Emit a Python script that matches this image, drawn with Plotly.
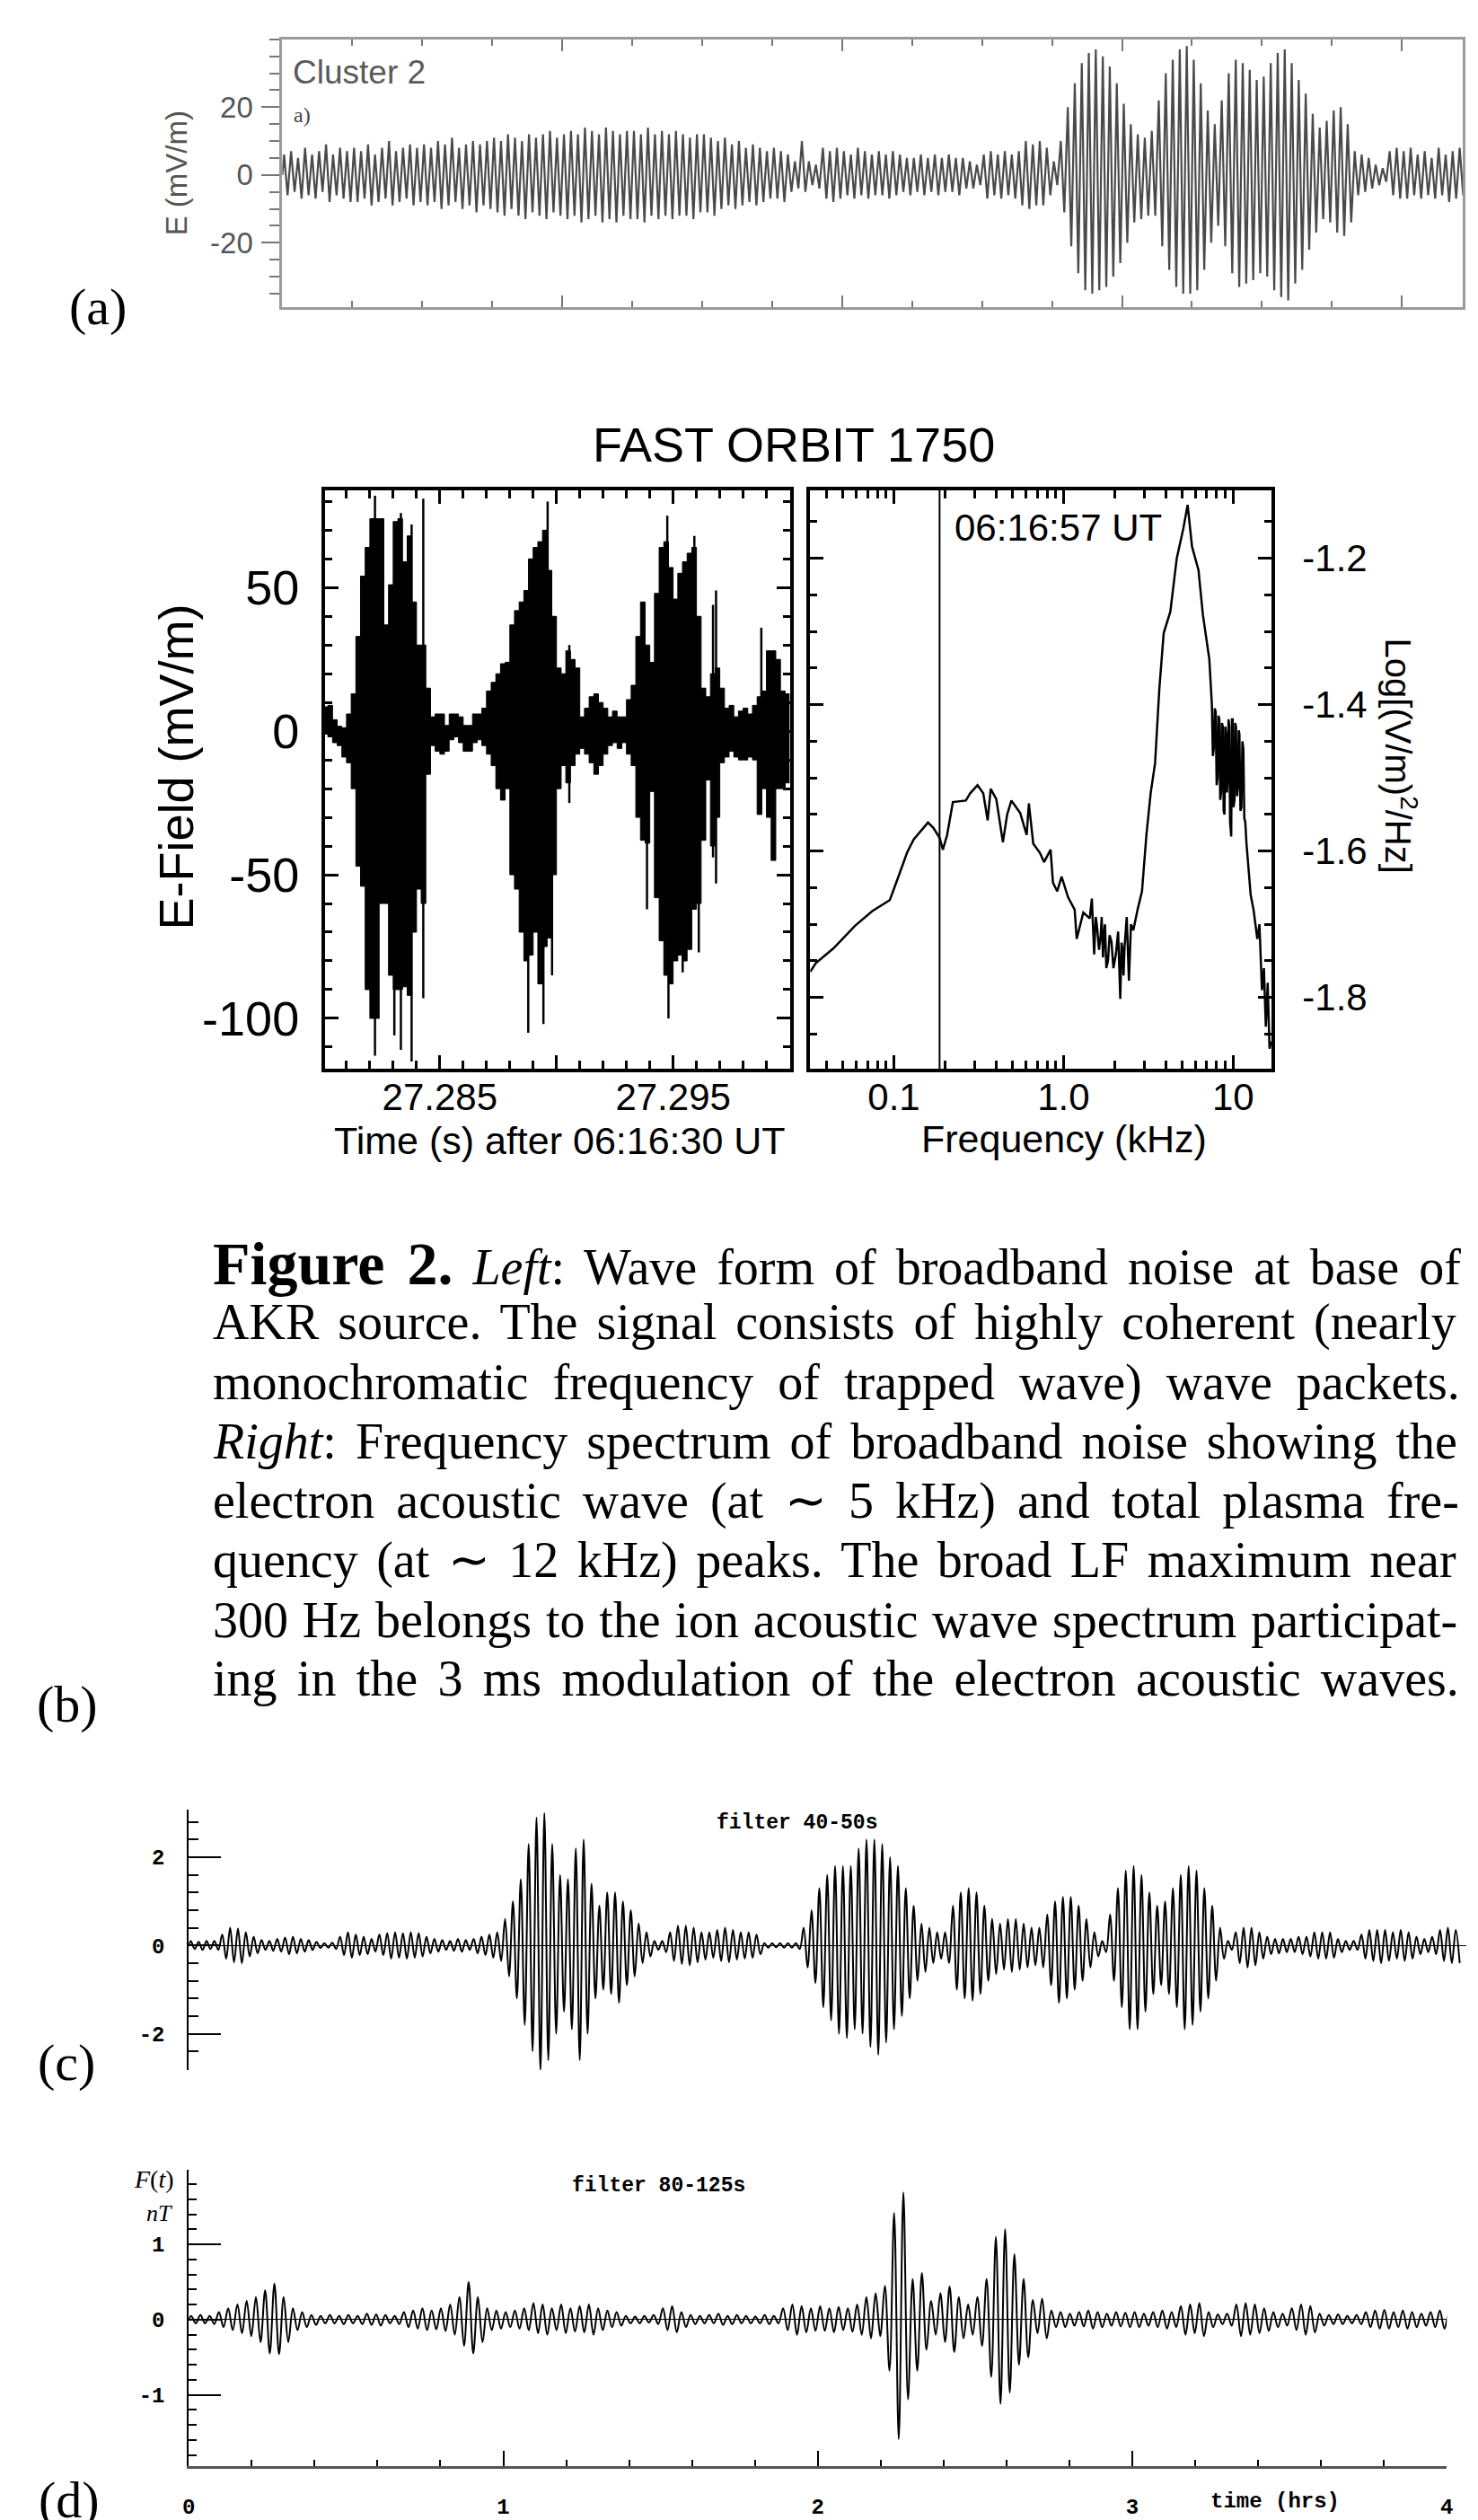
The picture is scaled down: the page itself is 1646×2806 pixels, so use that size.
import plotly.graph_objects as go

W, H = 1646, 2806          # reference canvas
OFF_X, OFF_Y = 8, 3        # compensate the page body margin
FW, FH = W - 8, H - 8      # figure size

# ======================= DATA =======================
# (a) Cluster 2 E-field: peak and trough of each oscillation (mV/m), one cycle per 0.1 x-unit
A_CYCLE = 0.1
A_PEAKS = [6, 7, 5, 8, 6, 7, 9, 6, 8, 7,
           8, 7, 9, 6, 8, 10, 7, 8, 9, 8,
           9, 8, 10, 9, 11, 8, 9, 10, 9, 10,
           11, 10, 12, 11, 10, 12, 11, 12, 13, 11,
           12, 13, 12, 14, 13, 12, 14, 13, 12, 13,
           13, 12, 14, 12, 13, 12, 13, 12, 11, 12,
           12, 11, 10, 11, 9, 10, 8, 9, 8, 7,
           8, 7, 6, 4, 10, 4, 3, 8, 7, 8,
           7, 6, 8, 7, 6, 7, 6, 7, 6, 5,
           5, 6, 5, 6, 5, 6, 5, 5, 4, 3,
           6, 7, 6, 7, 6, 7, 10, 9, 10, 8,
           4, 10, 20, 27, 33, 36, 37, 35, 32, 27,
           21, 15, 12, 11, 13, 22, 30, 34, 37, 38,
           34, 27, 19, 15, 22, 30, 34, 33, 31, 28,
           29, 33, 36, 37, 33, 28, 24, 18, 14, 16,
           19, 20, 15, 7, 6, 5, 3, 2, 7, 8,
           7, 8, 6, 7, 5, 8, 6, 7, 8]
A_TROUGHS = [-6, -5, -7, -6, -7, -5, -8, -6, -7, -8,
             -8, -7, -9, -8, -7, -9, -8, -7, -9, -8,
             -9, -8, -10, -9, -8, -10, -9, -11, -9, -10,
             -11, -12, -10, -12, -13, -11, -12, -13, -11, -12,
             -13, -12, -14, -13, -12, -14, -13, -14, -12, -13,
             -13, -14, -12, -13, -12, -13, -12, -12, -13, -11,
             -11, -12, -10, -9, -10, -9, -8, -9, -8, -7,
             -7, -8, -5, -4, -5, -3, -4, -7, -8, -7,
             -6, -7, -6, -7, -6, -6, -7, -6, -5, -6,
             -5, -6, -5, -6, -5, -5, -6, -4, -4, -3,
             -7, -6, -7, -6, -7, -9, -10, -9, -9, -6,
             -3, -11, -21, -29, -34, -35, -34, -33, -30, -26,
             -20, -14, -13, -12, -12, -21, -28, -33, -35, -35,
             -34, -28, -20, -15, -21, -29, -33, -32, -31, -29,
             -30, -34, -36, -37, -32, -28, -22, -17, -13, -14,
             -17, -18, -14, -6, -5, -4, -3, -2, -6, -7,
             -7, -6, -7, -6, -7, -6, -8, -7, -6]

# (b, left) FAST orbit 1750 wave form: max / min of each 0.2 ms column (mV/m)
B_T0 = 27.280
B_DT = 0.0002
B_TOP = [8.5, 9, 4, 1.7, 1.2, 6, 13, 33, 54, 64,
         74, 74, 74, 37, 51, 73, 74, 59, 68, 45,
         30, 30, 15, 5, 6, 6, 2, 6, 6, 5,
         2, 2, 6, 6, 8, 14, 17, 20, 23.5, 24,
         37, 42, 45, 49, 60, 64, 66, 70, 56, 40,
         22, 20, 28, 25, 22, 5, 8, 12, 13, 10,
         8, 5, 7, 5, 5, 11, 16, 33, 45, 30,
         24, 48, 64, 66, 57, 46, 55, 59, 62, 64,
         40, 15, 12, 20, 22, 15, 8, 9, 5, 7,
         8, 6, 9, 12, 14, 28, 28, 25, 14, 13]
B_BOT = [-1, -2, -4, -5, -9, -11, -20, -47, -54, -90,
         -100, -100, -60, -60, -85, -90, -90, -89, -92, -70,
         -55, -60, -15, -5, -7, -8, -7, -3, -2, -4,
         -7, -7, -4, -3, -5, -8, -12, -20, -24, -20,
         -50, -55, -70, -80, -78, -70, -88, -75, -72, -50,
         -20, -12, -18, -12, -8, -6, -8, -11, -15, -12,
         -8, -5, -4, -6, -4, -8, -12, -30, -38, -39,
         -21, -58, -73, -85, -88, -80, -78, -80, -76, -62,
         -60, -38, -17, -40, -30, -11, -9, -7, -9, -10,
         -10, -9, -10, -29, -20, -30, -45, -20, -20, -18]
# isolated sample spikes: time after 27.280 s (ms), upper and lower extent (mV/m)
B_SPIKE_MS = [2.22, 3.05, 3.33, 3.79, 4.29, 8.79, 9.44, 9.62, 9.81, 10.55,
              13.88, 14.75, 14.80, 15.41, 15.91, 16.10, 16.71, 16.84, 18.78]
B_SPIKE_TOP = [82, 0, 76, 72, 81, 0, 0, 80, 0, 30, 0, 75, 0, 0, 68, 0, 44, 49, 36]
B_SPIKE_BOT = [-113, -106, -111, -115, -93, -105, -102, 0, -85, -25,
               -62, 0, -100, -84, 0, -77, -44, -53, 0]

# (b, right) spectrum: frequency (kHz) and Log[(V/m)^2/Hz]
B_FREQ = [0.0321, 0.0347, 0.0440, 0.0590, 0.0746, 0.0946, 0.1033, 0.1197, 0.1309, 0.1429,
          0.1589, 0.1706, 0.1862, 0.1945, 0.2061, 0.2228, 0.2655, 0.2818, 0.3112, 0.3365,
          0.3573, 0.3724, 0.4018, 0.4395, 0.4656, 0.4932, 0.5559, 0.6067, 0.6252, 0.6637,
          0.7244, 0.7691, 0.8395, 0.8670, 0.9183, 0.9750, 1.0641, 1.1641, 1.1967, 1.3092,
          1.4289, 1.4700, 1.5171, 1.5500, 1.5800, 1.6200, 1.6558, 1.6800, 1.7100, 1.7350,
          1.7579, 1.7900, 1.8300, 1.8700, 1.9187, 1.9700, 2.0370, 2.1000, 2.1627, 2.2000,
          2.2300, 2.2600, 2.2909, 2.3600, 2.4322, 2.5000, 2.5823, 2.7353, 2.9040, 3.0832,
          3.2659, 3.4674, 3.6728, 3.8994, 4.2658, 4.6559, 5.0933, 5.3951, 5.7280, 6.2517,
          6.6374, 7.2444, 7.5000, 7.6000, 7.7000, 7.8000, 7.9000, 8.0000, 8.1000, 8.2000,
          8.3000, 8.4000, 8.5000, 8.6000, 8.7000, 8.8000, 8.9000, 9.0000, 9.1000, 9.2000,
          9.3000, 9.4000, 9.5000, 9.6000, 9.7500, 9.8500, 9.9500, 10.050, 10.200, 10.300,
          10.400, 10.550, 10.700, 10.800, 10.900, 11.050, 11.200, 11.350, 11.500, 11.650,
          11.800, 12.000, 12.700, 13.200, 13.900, 14.300, 14.800, 15.200, 15.600, 16.000,
          16.400, 16.800]
B_PSD = [-1.765, -1.753, -1.733, -1.702, -1.682, -1.667, -1.643, -1.602, -1.584, -1.574,
         -1.561, -1.568, -1.582, -1.598, -1.578, -1.533, -1.531, -1.521, -1.510, -1.521,
         -1.558, -1.515, -1.529, -1.588, -1.550, -1.531, -1.548, -1.578, -1.535, -1.590,
         -1.602, -1.615, -1.598, -1.643, -1.655, -1.635, -1.663, -1.680, -1.720, -1.684,
         -1.692, -1.665, -1.741, -1.690, -1.705, -1.735, -1.716, -1.690, -1.745, -1.712,
         -1.700, -1.760, -1.750, -1.715, -1.724, -1.760, -1.741, -1.710, -1.802, -1.725,
         -1.735, -1.770, -1.732, -1.690, -1.777, -1.700, -1.708, -1.680, -1.655, -1.578,
         -1.521, -1.480, -1.379, -1.302, -1.273, -1.200, -1.159, -1.127, -1.184, -1.216,
         -1.277, -1.338, -1.400, -1.470, -1.460, -1.405, -1.410, -1.510, -1.500, -1.415,
         -1.420, -1.530, -1.520, -1.425, -1.430, -1.545, -1.550, -1.430, -1.440, -1.520,
         -1.500, -1.420, -1.430, -1.560, -1.580, -1.420, -1.420, -1.540, -1.530, -1.425,
         -1.430, -1.525, -1.510, -1.435, -1.440, -1.545, -1.540, -1.450, -1.460, -1.555,
         -1.560, -1.590, -1.660, -1.680, -1.720, -1.700, -1.790, -1.760, -1.840, -1.780,
         -1.870, -1.860]
B_MARK_FREQ = 0.186

# (c) filter 40-50 s: peak and trough of each oscillation, one cycle per 0.025 hr
C_CYCLE = 0.025
C_PEAKS = [0.1, 0.08, 0.1, 0.1, 0.25, 0.4, 0.38, 0.3, 0.2, 0.12, 0.1, 0.15,
           0.18, 0.2, 0.15, 0.12, 0.08, 0.05, 0.06, 0.2, 0.3, 0.25, 0.2, 0.15,
           0.25, 0.28, 0.3, 0.28, 0.3, 0.28, 0.2, 0.15, 0.12, 0.1, 0.15, 0.12,
           0.15, 0.2, 0.25, 0.3, 0.6, 1.0, 1.5, 2.3, 2.9, 3.0, 2.3, 1.6,
           1.5, 2.2, 2.4, 1.4, 0.9, 1.2, 1.2, 1.0, 0.8, 0.5, 0.3, 0.1,
           0.1, 0.3, 0.45, 0.45, 0.4, 0.3, 0.3, 0.35, 0.4, 0.35, 0.3, 0.3,
           0.25, 0.05, 0.05, 0.05, 0.05, 0.05, 0.4, 0.8, 1.3, 1.6, 1.8, 1.8,
           1.8, 2.2, 2.4, 2.4, 2.3, 2.0, 1.8, 1.3, 0.9, 0.5, 0.4, 0.3,
           0.3, 0.9, 1.2, 1.3, 1.2, 0.9, 0.6, 0.5, 0.6, 0.6, 0.5, 0.4,
           0.4, 0.7, 1.0, 1.1, 1.1, 0.9, 0.6, 0.3, 0.1, 0.7, 1.3, 1.7,
           1.8, 1.6, 1.2, 0.9, 1.0, 1.3, 1.6, 1.8, 1.7, 1.3, 0.9, 0.4,
           0.1, 0.3, 0.4, 0.4, 0.3, 0.2, 0.15, 0.15, 0.15, 0.2, 0.2, 0.3,
           0.3, 0.3, 0.15, 0.1, 0.1, 0.25, 0.35, 0.35, 0.35, 0.3, 0.35, 0.3,
           0.2, 0.15, 0.2, 0.35, 0.4, 0.35]
C_TROUGHS = [-0.08, -0.1, -0.08, -0.1, -0.3, -0.38, -0.4, -0.25, -0.18, -0.1, -0.12, -0.14,
             -0.2, -0.18, -0.14, -0.1, -0.06, -0.05, -0.08, -0.22, -0.28, -0.22, -0.2, -0.14,
             -0.22, -0.3, -0.28, -0.3, -0.28, -0.25, -0.18, -0.14, -0.1, -0.12, -0.14, -0.1,
             -0.18, -0.22, -0.28, -0.35, -0.7, -1.2, -1.8, -2.4, -2.85, -2.6, -2.0, -1.5,
             -1.9, -2.6, -2.0, -1.2, -1.0, -1.1, -1.3, -0.9, -0.7, -0.4, -0.25, -0.1,
             -0.15, -0.35, -0.42, -0.45, -0.38, -0.32, -0.28, -0.35, -0.38, -0.32, -0.3, -0.28,
             -0.2, -0.05, -0.04, -0.05, -0.05, -0.08, -0.5, -0.85, -1.4, -1.7, -2.0, -2.1,
             -1.9, -2.0, -2.3, -2.48, -2.2, -1.9, -1.6, -1.2, -0.8, -0.6, -0.4, -0.3,
             -0.4, -1.0, -1.2, -1.25, -1.1, -0.8, -0.65, -0.55, -0.6, -0.55, -0.5, -0.45,
             -0.5, -0.9, -1.3, -1.2, -1.0, -0.8, -0.5, -0.25, -0.15, -0.8, -1.4, -1.9,
             -1.9, -1.5, -1.1, -0.9, -1.1, -1.4, -1.9, -1.8, -1.5, -1.2, -0.8, -0.3,
             -0.1, -0.4, -0.5, -0.45, -0.3, -0.2, -0.18, -0.15, -0.15, -0.2, -0.25, -0.3,
             -0.3, -0.28, -0.15, -0.1, -0.1, -0.3, -0.35, -0.4, -0.35, -0.3, -0.35, -0.3,
             -0.2, -0.15, -0.2, -0.35, -0.4, -0.4]

# (d) filter 80-125 s: peak and trough of each oscillation (nT), one cycle per 1/34 hr
D_CYCLE = 1.0 / 34
D_PEAKS = [0.05, 0.06, 0.05, 0.1, 0.15, 0.2, 0.25, 0.3, 0.39, 0.48, 0.3, 0.15, 0.1, 0.06, 0.05, 0.06, 0.05,
           0.06, 0.05, 0.08, 0.07, 0.06, 0.05, 0.1, 0.12, 0.15, 0.12, 0.15, 0.2, 0.3, 0.5, 0.3, 0.15, 0.12,
           0.1, 0.12, 0.15, 0.22, 0.2, 0.15, 0.2, 0.15, 0.18, 0.2, 0.15, 0.12, 0.1, 0.05, 0.04, 0.05, 0.06,
           0.15, 0.18, 0.1, 0.06, 0.05, 0.06, 0.08, 0.05, 0.06, 0.05, 0.04, 0.06, 0.05, 0.15, 0.2, 0.18, 0.15,
           0.18, 0.15, 0.17, 0.15, 0.2, 0.3, 0.35, 0.45, 1.42, 1.69, 0.54, 0.62, 0.25, 0.35, 0.44, 0.3, 0.2,
           0.3, 0.54, 1.1, 1.2, 0.87, 0.54, 0.26, 0.28, 0.12, 0.1, 0.08, 0.1, 0.12, 0.1, 0.08, 0.1, 0.09,
           0.1, 0.08, 0.1, 0.12, 0.1, 0.18, 0.2, 0.22, 0.1, 0.07, 0.08, 0.2, 0.22, 0.2, 0.15, 0.1, 0.08,
           0.15, 0.2, 0.18, 0.08, 0.06, 0.07, 0.05, 0.06, 0.1, 0.12, 0.13, 0.1, 0.12, 0.1, 0.08, 0.1, 0.12,
           0.1]
D_TROUGHS = [-0.05, -0.05, -0.06, -0.1, -0.14, -0.18, -0.22, -0.3, -0.45, -0.46, -0.3, -0.14, -0.1, -0.07, -0.05, -0.05, -0.06,
             -0.05, -0.06, -0.07, -0.08, -0.05, -0.06, -0.1, -0.12, -0.14, -0.13, -0.15, -0.2, -0.35, -0.45, -0.3, -0.14, -0.12,
             -0.1, -0.12, -0.14, -0.18, -0.2, -0.14, -0.18, -0.16, -0.17, -0.2, -0.14, -0.1, -0.08, -0.05, -0.05, -0.04, -0.06,
             -0.14, -0.17, -0.1, -0.06, -0.05, -0.05, -0.07, -0.06, -0.05, -0.05, -0.05, -0.06, -0.05, -0.14, -0.2, -0.17, -0.15,
             -0.15, -0.17, -0.14, -0.16, -0.2, -0.25, -0.22, -0.68, -1.59, -1.06, -0.68, -0.4, -0.2, -0.3, -0.43, -0.25, -0.2,
             -0.35, -0.76, -1.12, -0.97, -0.6, -0.5, -0.18, -0.25, -0.1, -0.1, -0.08, -0.09, -0.12, -0.1, -0.08, -0.09, -0.1,
             -0.1, -0.08, -0.1, -0.12, -0.1, -0.2, -0.18, -0.22, -0.1, -0.06, -0.08, -0.22, -0.2, -0.18, -0.15, -0.1, -0.08,
             -0.14, -0.2, -0.17, -0.08, -0.06, -0.06, -0.05, -0.06, -0.1, -0.12, -0.12, -0.1, -0.12, -0.1, -0.08, -0.1, -0.12,
             -0.1]

CAPTION = [
    '<span style="font-size:68px"><b>Figure 2.</b></span> <i>Left</i>: Wave form of broadband noise at base of',
    "AKR source. The signal consists of highly coherent (nearly",
    "monochromatic frequency of trapped wave) wave packets.",
    "<i>Right</i>: Frequency spectrum of broadband noise showing the",
    "electron acoustic wave (at \u223c 5 kHz) and total plasma fre-",
    "quency (at \u223c 12 kHz) peaks. The broad LF maximum near",
    "300 Hz belongs to the ion acoustic wave spectrum participat-",
    "ing in the 3 ms modulation of the electron acoustic waves.",
]
CAPTION_WORDSPACE = [8, 7, 13, 7, 10, 6.5, 1.8, 8.3]   # emulate the justified block

# ======================= HELPERS =======================
def dom_x(a, b):
    return [(a - OFF_X) / FW, (b - OFF_X) / FW]

def dom_y(top, bottom):
    return [1 - (bottom - OFF_Y) / FH, 1 - (top - OFF_Y) / FH]

def px(x):
    return (x - OFF_X) / FW

def py(y):
    return 1 - (y - OFF_Y) / FH

def wave(period, peaks, troughs):
    xs, ys = [0.0], [0.0]
    for k, (p, q) in enumerate(zip(peaks, troughs)):
        base = k * period
        xs += [base + 0.25 * period, base + 0.75 * period]
        ys += [p, q]
    return xs, ys

SANS = "Liberation Sans, Arial, sans-serif"
SERIF = "Liberation Serif, Times New Roman, serif"
MONO = "Liberation Mono, Courier New, monospace"

fig = go.Figure()

# ---- (a) ----
ax, ay = wave(A_CYCLE, A_PEAKS, A_TROUGHS)
fig.add_trace(go.Scatter(x=ax, y=ay, mode="lines", line=dict(color="#4a4a4a", width=2.2),
                         xaxis="x", yaxis="y", hoverinfo="skip"))

# ---- (b) left ----
bt = [B_T0 + k * B_DT for k in range(len(B_TOP) + 1)]
fig.add_trace(go.Scatter(x=bt, y=B_TOP + [B_TOP[-1]], mode="lines", line=dict(color="black", width=1, shape="hv"),
                         xaxis="x2", yaxis="y2", hoverinfo="skip"))
fig.add_trace(go.Scatter(x=bt, y=B_BOT + [B_BOT[-1]], mode="lines", line=dict(color="black", width=1, shape="hv"),
                         fill="tonexty", fillcolor="black", xaxis="x2", yaxis="y2", hoverinfo="skip"))
sx, sy = [], []
for ms, top, bot in zip(B_SPIKE_MS, B_SPIKE_TOP, B_SPIKE_BOT):
    t = B_T0 + ms / 1000.0
    sx += [t, t, None]
    sy += [bot, top, None]
fig.add_trace(go.Scatter(x=sx, y=sy, mode="lines", line=dict(color="black", width=2.5),
                         xaxis="x2", yaxis="y2", hoverinfo="skip"))

# ---- (b) right ----
YR3 = [-1.8976, -1.107]
fig.add_trace(go.Scatter(x=B_FREQ, y=B_PSD, mode="lines", line=dict(color="black", width=2.5),
                         xaxis="x3", yaxis="y3", hoverinfo="skip"))
fig.add_trace(go.Scatter(x=[B_MARK_FREQ, B_MARK_FREQ], y=YR3, mode="lines", line=dict(color="black", width=2),
                         xaxis="x3", yaxis="y3", hoverinfo="skip"))

# ---- (c) ----
cx, cy = wave(C_CYCLE, C_PEAKS, C_TROUGHS)
fig.add_trace(go.Scatter(x=cx, y=cy, mode="lines", line=dict(color="black", width=2, shape="spline", smoothing=1),
                         xaxis="x4", yaxis="y4", hoverinfo="skip"))

# ---- (d) ----
dx, dy = wave(D_CYCLE, D_PEAKS, D_TROUGHS)
fig.add_trace(go.Scatter(x=dx, y=dy, mode="lines", line=dict(color="black", width=2, shape="spline", smoothing=1),
                         xaxis="x5", yaxis="y5", hoverinfo="skip"))

GRAY = "#9a9a9a"
TGRAY = "#777777"

layout = dict(
    width=FW, height=FH, margin=dict(l=0, r=0, t=0, b=0),
    paper_bgcolor="white", plot_bgcolor="rgba(0,0,0,0)", showlegend=False,
    # (a)
    xaxis=dict(domain=dom_x(310, 1636), anchor="y", range=[0, 16.87], showline=True, linecolor=GRAY, linewidth=3,
               mirror="allticks", ticks="inside", tick0=0, dtick=4, ticklen=13, tickwidth=2, tickcolor=TGRAY,
               minor=dict(ticks="inside", tick0=0, dtick=1, ticklen=7, tickwidth=2, tickcolor=TGRAY),
               showticklabels=False, showgrid=False, zeroline=False),
    yaxis=dict(domain=dom_y(39, 339), anchor="x", range=[-39, 40], showline=True, linecolor=GRAY, linewidth=3,
               mirror=True, ticks="outside", tickvals=[-20, 0, 20], ticktext=["-20", "0", "20"],
               ticklen=20, tickwidth=2, tickcolor=TGRAY,
               minor=dict(ticks="outside", tick0=0, dtick=5, ticklen=11, tickwidth=2, tickcolor=TGRAY),
               tickfont=dict(family=SANS, size=33, color="#555555"), ticklabelstandoff=3,
               showgrid=False, zeroline=False),
    # (b) left
    xaxis2=dict(domain=dom_x(358, 880), anchor="y2", range=[27.28008, 27.30000], showline=True, linecolor="black",
                linewidth=4, mirror="allticks", ticks="inside", tickvals=[27.285, 27.29, 27.295],
                ticktext=["27.285", "", "27.295"], ticklen=15, tickwidth=3, tickcolor="black",
                minor=dict(ticks="inside", tick0=27.28, dtick=0.001, ticklen=9, tickwidth=3, tickcolor="black"),
                tickfont=dict(family=SANS, size=42, color="black"), ticklabelstandoff=-9,
                showgrid=False, zeroline=False),
    yaxis2=dict(domain=dom_y(544, 1192), anchor="x2", range=[-117.6, 83.9], showline=True, linecolor="black",
                linewidth=4, mirror="allticks", ticks="inside", tickvals=[-100, -50, 0, 50],
                ticktext=["-100", "-50", "0", "50"], ticklen=15, tickwidth=3, tickcolor="black",
                minor=dict(ticks="inside", tick0=0, dtick=10, ticklen=8, tickwidth=3, tickcolor="black"),
                tickfont=dict(family=SANS, size=54, color="black"), ticklabelstandoff=14,
                showgrid=False, zeroline=False),
    # (b) right
    xaxis3=dict(domain=dom_x(903, 1421), anchor="y3", type="log", range=[-1.493, 1.226], showline=True,
                linecolor="black", linewidth=4, mirror="allticks", ticks="inside", tickvals=[0.1, 1, 10],
                ticktext=["0.1", "1.0", "10"], ticklen=15, tickwidth=3, tickcolor="black",
                minor=dict(ticks="inside", ticklen=9, tickwidth=3, tickcolor="black",
                           tickvals=[0.04, 0.05, 0.06, 0.07, 0.08, 0.09, 0.2, 0.3, 0.4, 0.5, 0.6, 0.7, 0.8, 0.9,
                                     2, 3, 4, 5, 6, 7, 8, 9]),
                tickfont=dict(family=SANS, size=42, color="black"), ticklabelstandoff=-9,
                showgrid=False, zeroline=False),
    yaxis3=dict(domain=dom_y(544, 1192), anchor="x3", range=YR3, side="right", showline=True, linecolor="black",
                linewidth=4, mirror="allticks", ticks="inside", tickvals=[-1.8, -1.6, -1.4, -1.2],
                ticktext=["-1.8", "-1.6", "-1.4", "-1.2"], ticklen=15, tickwidth=3, tickcolor="black",
                minor=dict(ticks="inside", tick0=-1.2, dtick=0.05, ticklen=8, tickwidth=3, tickcolor="black"),
                tickfont=dict(family=SANS, size=42, color="black"), ticklabelstandoff=22,
                showgrid=False, zeroline=False),
    # (c)
    xaxis4=dict(domain=dom_x(205, 1640), anchor="y4", range=[0, 4.065], visible=False),
    yaxis4=dict(domain=dom_y(2022, 2313), anchor="x4", range=[-2.82, 3.07], showline=True, linecolor="black",
                linewidth=2, ticks="inside", tickvals=[-2, 0, 2], ticktext=["-2", "0", "2"], ticklen=36,
                tickwidth=2, tickcolor="black",
                minor=dict(ticks="inside", tick0=0, dtick=0.4, ticklen=11, tickwidth=2, tickcolor="black"),
                tickfont=dict(family=MONO, size=24, color="black", weight="bold"), ticklabelstandoff=20,
                showgrid=False, zeroline=True, zerolinecolor="black", zerolinewidth=1),
    # (d)
    xaxis5=dict(domain=dom_x(205, 1618), anchor="y5", range=[0, 4], showline=True, linecolor="#555555",
                linewidth=3, ticks="inside", tickvals=[0, 1, 2, 3, 4], ticktext=["0", "1", "2", "3", "4"],
                ticklen=17, tickwidth=2, tickcolor="black",
                minor=dict(ticks="inside", tick0=0, dtick=0.2, ticklen=7, tickwidth=2, tickcolor="black"),
                tickfont=dict(family=MONO, size=24, color="black", weight="bold"), ticklabelstandoff=21,
                showgrid=False, zeroline=False),
    yaxis5=dict(domain=dom_y(2425, 2757), anchor="x5", range=[-1.95, 1.99], showline=True, linecolor="black",
                linewidth=2, ticks="inside", tickvals=[-1, 0, 1], ticktext=["-1", "0", "1"], ticklen=36,
                tickwidth=2, tickcolor="black",
                minor=dict(ticks="inside", tick0=0, dtick=0.2, ticklen=9, tickwidth=2, tickcolor="black"),
                tickfont=dict(family=MONO, size=24, color="black", weight="bold"), ticklabelstandoff=20,
                showgrid=False, zeroline=True, zerolinecolor="black", zerolinewidth=1),
)
fig.update_layout(**layout)

ann = []

def note(text, x, y, size, family=SANS, color="black", xanchor="center", yanchor="middle", angle=0, weight=None):
    f = dict(family=family, size=size, color=color)
    if weight:
        f["weight"] = weight
    ann.append(dict(text=text, x=px(x), y=py(y), xref="paper", yref="paper", showarrow=False,
                    xanchor=xanchor, yanchor=yanchor, textangle=angle, font=f))

# (a)
note("Cluster 2", 320, 76, 37, color="#5a5a5a", xanchor="left")
note("a)", 321, 124, 24, family=SERIF, color="#444444", xanchor="left")
note("E (mV/m)", 192, 189, 33, color="#555555", angle=-90)
note("(a)", 103, 338, 58, family=SERIF)

# (b)
note("FAST ORBIT 1750", 884, 493, 54)
note("06:16:57 UT", 1063, 586, 42, xanchor="left")
note("E-Field (mV/m)", 191, 854, 54, angle=-90)
note("Time (s) after 06:16:30 UT", 622, 1272, 43)
note("Frequency (kHz)", 1188, 1270, 43)
note("Log[(V/m)<sup>2</sup>/Hz]", 1566, 841, 40, angle=90)

cap_y = [1410, 1476, 1543, 1609, 1676, 1742, 1809, 1875]
for line, yy, ws in zip(CAPTION, cap_y, CAPTION_WORDSPACE):
    note('<span style="word-spacing:%spx">%s</span>' % (ws, line), 230, yy, 56, family=SERIF, xanchor="left")
note("(b)", 69, 1903, 58, family=SERIF)

# (c)
note("filter 40-50s", 888, 2037, 23, family=MONO, weight="bold")
note("(c)", 68, 2305, 58, family=SERIF)

# (d)
note("filter 80-125s", 733, 2443, 23, family=MONO, weight="bold")
note("<i>F</i>(<i>t</i>)", 166, 2435, 28, family=SERIF)
note("<i>nT</i>", 172, 2474, 26, family=SERIF)
note("time (hrs)", 1425, 2796, 24, family=MONO, weight="bold")
note("(d)", 71, 2794, 58, family=SERIF)

fig.update_layout(annotations=ann)
fig.write_html("out.html")
